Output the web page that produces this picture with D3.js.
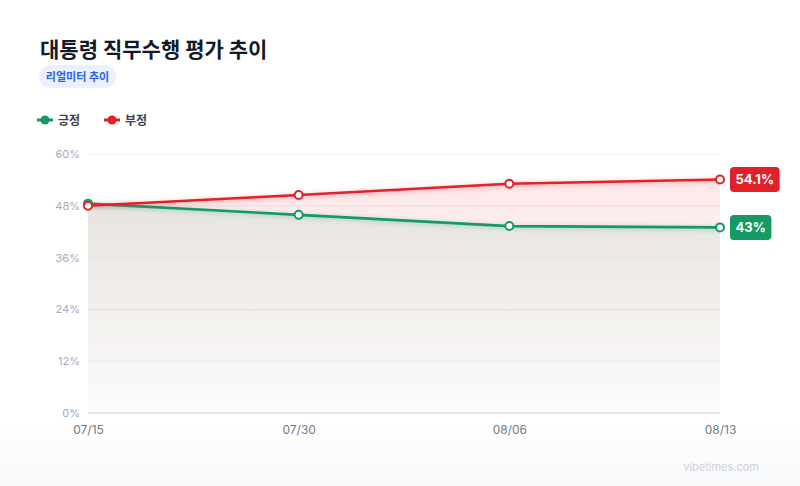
<!DOCTYPE html>
<html>
<head>
<meta charset="utf-8">
<script src="https://cdn.jsdelivr.net/npm/d3@7"></script>
<style>
  html, body { margin: 0; padding: 0; }
  body { width: 800px; height: 486px; overflow: hidden;
         background: linear-gradient(to bottom, #ffffff 0px, #ffffff 420px, #f7f8fa 486px);
         font-family: Inter, "Noto Sans CJK KR", sans-serif; }
</style>
</head>
<body>
<svg id="chart" width="800" height="486"></svg>
<script>
const dates = ['07/15', '07/30', '08/06', '08/13'];
const positive = [48.5, 45.9, 43.3, 43.0];
const negative = [48.0, 50.5, 53.1, 54.1];
const yTicks = [0, 12, 24, 36, 48, 60];

const svg = d3.select('#chart');
const margin = { top: 154, right: 80, bottom: 73, left: 88 };
const width = 800, height = 486;

const x = d3.scalePoint()
    .domain(dates)
    .range([margin.left, width - margin.right]);
const y = d3.scaleLinear()
    .domain([0, 60])
    .range([height - margin.bottom, margin.top]);

const series = [
    { name: '긍정', values: positive, color: '#169a64', key: 'pos' },
    { name: '부정', values: negative, color: '#e2202a', key: 'neg' }
];

const defs = svg.append('defs');
series.forEach((s) => {
    const g = defs.append('linearGradient')
        .attr('id', `fill-${s.key}`)
        .attr('gradientUnits', 'userSpaceOnUse')
        .attr('x1', 0).attr('x2', 0)
        .attr('y1', y(60)).attr('y2', y(0));
    g.append('stop').attr('offset', '0%').attr('stop-color', s.color).attr('stop-opacity', 0.11);
    g.append('stop').attr('offset', '100%').attr('stop-color', s.color).attr('stop-opacity', 0.01);

    const f = defs.append('filter')
        .attr('id', `glow-${s.key}`)
        .attr('x', '-10%').attr('y', '-50%').attr('width', '120%').attr('height', '200%');
    f.append('feDropShadow')
        .attr('dx', 0).attr('dy', 1)
        .attr('stdDeviation', 2.5)
        .attr('flood-color', s.color)
        .attr('flood-opacity', 0.35);
});

// title
svg.append('text')
    .attr('x', 40).attr('y', 57)
    .attr('font-size', 21).attr('font-weight', 700)
    .attr('fill', '#141a26')
    .text('대통령 직무수행 평가 추이');

// badge
svg.append('rect')
    .attr('x', 39).attr('y', 65).attr('width', 77).attr('height', 23)
    .attr('rx', 11.5).attr('fill', '#eaf0fc');
svg.append('text')
    .attr('x', 77.5).attr('y', 81)
    .attr('text-anchor', 'middle')
    .attr('font-size', 11).attr('font-weight', 700)
    .attr('fill', '#2563eb')
    .text('리얼미터 추이');

// legend
const legend = svg.append('g').attr('transform', 'translate(37,120)');
let lx = 0;
series.forEach((s) => {
    const item = legend.append('g').attr('transform', `translate(${lx},0)`);
    item.append('line')
        .attr('x1', 0).attr('x2', 16).attr('y1', 0).attr('y2', 0)
        .attr('stroke', s.color).attr('stroke-width', 3);
    item.append('circle')
        .attr('cx', 8).attr('cy', 0).attr('r', 4.5).attr('fill', s.color);
    item.append('text')
        .attr('x', 21).attr('y', 4.5)
        .attr('font-size', 12).attr('font-weight', 700)
        .attr('fill', '#374151')
        .text(s.name);
    lx += 67;
});

// grid
svg.append('g')
    .selectAll('line')
    .data(yTicks)
    .join('line')
    .attr('x1', margin.left).attr('x2', width - margin.right)
    .attr('y1', (d) => y(d)).attr('y2', (d) => y(d))
    .attr('stroke', (d) => d === 0 ? '#e8eaee' : '#f4f4f5')
    .attr('stroke-width', (d) => d === 0 ? 2 : 1.5);

// areas
const area = d3.area()
    .x((d, i) => x(dates[i]))
    .y0(y(0))
    .y1((d) => y(d));
series.slice().reverse().forEach((s) => {
    svg.append('path')
        .datum(s.values)
        .attr('d', area)
        .attr('fill', `url(#fill-${s.key})`);
});

// y axis labels
const yAxis = d3.axisLeft(y)
    .tickValues(yTicks)
    .tickFormat((d) => `${d}%`)
    .tickSize(0)
    .tickPadding(8);
svg.append('g')
    .attr('transform', `translate(${margin.left},0)`)
    .call(yAxis)
    .call((g) => g.select('.domain').remove())
    .call((g) => g.selectAll('text')
        .attr('font-size', 11)
        .attr('font-family', 'Inter, sans-serif')
        .attr('fill', '#a7abb5'));

// x axis labels
const xAxis = d3.axisBottom(x).tickSize(0).tickPadding(12);
svg.append('g')
    .attr('transform', `translate(0,${y(0)})`)
    .call(xAxis)
    .call((g) => g.select('.domain').remove())
    .call((g) => g.selectAll('text')
        .attr('font-size', 12)
        .attr('font-family', 'Inter, sans-serif')
        .attr('fill', '#737a86'));

// lines
const line = d3.line()
    .x((d, i) => x(dates[i]))
    .y((d) => y(d));
series.forEach((s) => {
    svg.append('path')
        .datum(s.values)
        .attr('d', line)
        .attr('fill', 'none')
        .attr('stroke', s.color)
        .attr('stroke-width', 2.6)
        .attr('filter', `url(#glow-${s.key})`);
});
series.forEach((s) => {
    svg.append('g')
        .selectAll('circle')
        .data(s.values)
        .join('circle')
        .attr('cx', (d, i) => x(dates[i]))
        .attr('cy', (d) => y(d))
        .attr('r', 4)
        .attr('fill', '#ffffff')
        .attr('stroke', s.color)
        .attr('stroke-width', 2);
});

// end labels
series.forEach((s) => {
    const v = s.values[s.values.length - 1];
    const label = `${v % 1 === 0 ? v.toFixed(0) : v.toFixed(1)}%`;
    const g = svg.append('g')
        .attr('transform', `translate(${x(dates[dates.length - 1]) + 10},${y(v)})`);
    const t = g.append('text')
        .attr('x', 5.5).attr('y', 4.8)
        .attr('font-size', 13).attr('font-weight', 700)
        .attr('fill', '#ffffff')
        .text(label);
    const w = t.node().getComputedTextLength();
    g.insert('rect', 'text')
        .attr('x', 0).attr('y', -12.5)
        .attr('width', w + 11).attr('height', 25)
        .attr('rx', 4)
        .attr('fill', s.color);
});

// watermark
svg.append('text')
    .attr('x', 759).attr('y', 471)
    .attr('text-anchor', 'end')
    .attr('font-size', 11)
    .attr('fill', '#cfd3da')
    .text('vibetimes.com');
</script>
</body>
</html>
